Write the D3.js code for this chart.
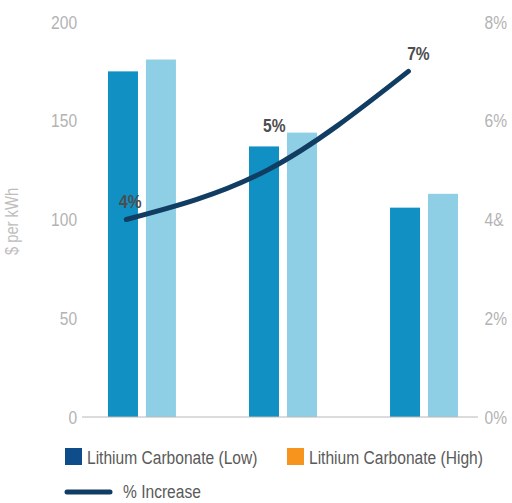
<!DOCTYPE html>
<html>
<head>
<meta charset="utf-8">
<script src="https://cdn.jsdelivr.net/npm/d3@7"></script>
<style>
  html, body { margin: 0; padding: 0; background: #fff; }
  svg { display: block; font-family: "Liberation Sans", Arial, sans-serif; }
</style>
</head>
<body>
<svg id="chart" width="512" height="503"></svg>
<script>
// Battery cost per kWh under two lithium carbonate price cases, with % increase
const categories = ["Case 1", "Case 2", "Case 3"];
const seriesNames = ["Lithium Carbonate (Low)", "Lithium Carbonate (High)"];
const lowValues = [175, 137, 106];
const highValues = [181, 144, 113];
const pctIncrease = [4, 5, 7];
const leftTicks = [0, 50, 100, 150, 200];
const rightTicks = [0, 2, 4, 6, 8];
const rightTickLabels = ["0%", "2%", "4&", "6%", "8%"];
const yTitle = "$ per kWh";
const lineName = "% Increase";

const barColors = ["#1190c4", "#8fcfe6"];
const legendColors = ["#0e4d8a", "#f7941d"];
const lineColor = "#123d62";
const NARROW = 0.82; // horizontal squeeze giving a condensed face

const svg = d3.select("#chart");
const plot = { left: 82, right: 478, top: 22, bottom: 417 };

// Draws condensed text anchored at (x, y)
function narrowText(parent, x, y, str, opts = {}) {
  const g = parent.append("g").attr("transform", `translate(${x},${y}) scale(${NARROW},1)`);
  return g.append("text")
    .attr("x", 0).attr("y", 0)
    .attr("dy", "0.35em")
    .attr("text-anchor", opts.anchor || "start")
    .attr("fill", opts.fill || "#555")
    .style("font-size", (opts.size || 19) + "px")
    .style("font-weight", opts.weight || "normal")
    .text(str);
}

const y = d3.scaleLinear().domain([0, 200]).range([plot.bottom, plot.top]);
const y2 = d3.scaleLinear().domain([0, 8]).range([plot.bottom, plot.top]);

const x0 = d3.scaleBand()
  .domain(categories)
  .range([plot.left, plot.right])
  .paddingInner(0.518)
  .paddingOuter(0.163)
  .align(0.565);

const x1 = d3.scaleBand()
  .domain(seriesNames)
  .range([0, x0.bandwidth()])
  .paddingInner(0.21);

const rows = categories.map((c, i) => ({ cat: c, vals: [lowValues[i], highValues[i]] }));

// Left axis
const axL = svg.append("g")
  .attr("transform", `translate(${plot.left},0)`)
  .call(d3.axisLeft(y).tickValues(leftTicks).tickSize(0).tickPadding(6));
axL.select(".domain").remove();
axL.selectAll("text")
  .attr("fill", "#b3b3b3")
  .attr("transform", `scale(${NARROW},1)`)
  .style("font-size", "19px")
  .style("font-family", "Liberation Sans, Arial, sans-serif");

// Right axis
const axR = svg.append("g")
  .attr("transform", `translate(${plot.right},0)`)
  .call(d3.axisRight(y2).tickValues(rightTicks).tickSize(0).tickPadding(8)
    .tickFormat((d, i) => rightTickLabels[i]));
axR.select(".domain").remove();
axR.selectAll("text")
  .attr("fill", "#b3b3b3")
  .attr("transform", `scale(${NARROW},1)`)
  .style("font-size", "19px")
  .style("font-family", "Liberation Sans, Arial, sans-serif");

// Y-axis title
svg.append("g")
  .attr("transform", `translate(12,${(plot.top + plot.bottom) / 2 + 2}) rotate(-90) scale(${NARROW},1)`)
  .append("text")
  .attr("text-anchor", "middle")
  .attr("dy", "0.35em")
  .attr("fill", "#bdbdbd")
  .style("font-size", "18px")
  .text(yTitle);

// Bars
const groups = svg.append("g").selectAll("g")
  .data(rows)
  .join("g")
  .attr("transform", d => `translate(${x0(d.cat)},0)`);

groups.selectAll("rect")
  .data(d => d.vals.map((v, k) => ({ key: seriesNames[k], v, k })))
  .join("rect")
  .attr("x", d => x1(d.key))
  .attr("y", d => y(d.v))
  .attr("width", x1.bandwidth())
  .attr("height", d => y(0) - y(d.v))
  .attr("fill", d => barColors[d.k]);

// Baseline
svg.append("line")
  .attr("x1", plot.left).attr("x2", plot.right)
  .attr("y1", y(0)).attr("y2", y(0))
  .attr("stroke", "#b8b8b8").attr("stroke-width", 1);

// % increase line
const lineX = c => x0(c) + x0.bandwidth() * 0.27;
const line = d3.line()
  .x((d, i) => lineX(categories[i]))
  .y(d => y2(d))
  .curve(d3.curveMonotoneX);

svg.append("path")
  .datum(pctIncrease)
  .attr("d", line)
  .attr("fill", "none")
  .attr("stroke", lineColor)
  .attr("stroke-width", 5)
  .attr("stroke-linecap", "round");

// Point labels: the middle one sits above its group's bars
const labelLift = [18, 45, 18];
const labels = svg.append("g");
pctIncrease.forEach((d, i) => {
  narrowText(labels, lineX(categories[i]) + 4 + i * 3, y2(d) - labelLift[i], d + "%", {
    anchor: "middle", fill: "#4d4d4d", size: 19, weight: "bold"
  });
});

// Legend
const legend = svg.append("g");
const legItems = [
  { x: 65, label: seriesNames[0], color: legendColors[0] },
  { x: 287, label: seriesNames[1], color: legendColors[1] }
];
legItems.forEach(it => {
  legend.append("rect")
    .attr("x", it.x).attr("y", 448)
    .attr("width", 17).attr("height", 17)
    .attr("fill", it.color);
  narrowText(legend, it.x + 22, 457, it.label, { fill: "#5a5a5a", size: 19 });
});
legend.append("line")
  .attr("x1", 67).attr("x2", 110)
  .attr("y1", 492).attr("y2", 492)
  .attr("stroke", lineColor)
  .attr("stroke-width", 5)
  .attr("stroke-linecap", "round");
narrowText(legend, 123, 491, lineName, { fill: "#5a5a5a", size: 19 });
</script>
</body>
</html>
